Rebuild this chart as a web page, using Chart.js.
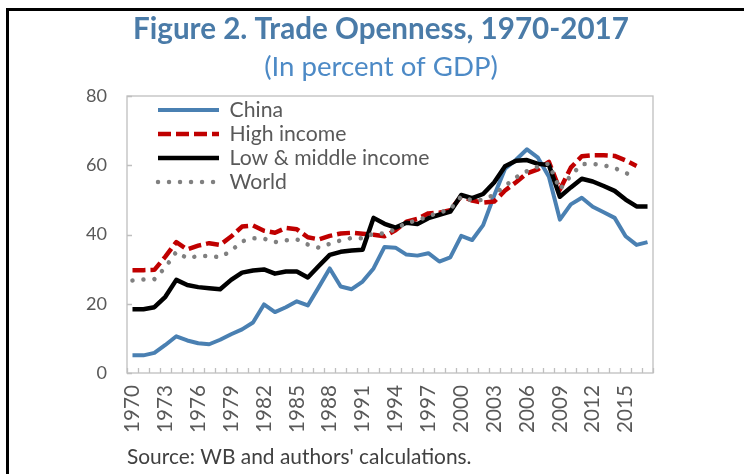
<!DOCTYPE html>
<html>
<head>
<meta charset="utf-8">
<script src="https://cdn.jsdelivr.net/npm/chart.js@4/dist/chart.umd.min.js"></script>
<style>
html,body{margin:0;padding:0;background:#fff;}
canvas{display:block;}
</style>
</head>
<body>
<canvas id="c" width="744" height="474"></canvas>
<script>
// ---------- data ----------
const years = ['1970','1971','1972','1973','1974','1975','1976','1977','1978','1979',
  '1980','1981','1982','1983','1984','1985','1986','1987','1988','1989',
  '1990','1991','1992','1993','1994','1995','1996','1997','1998','1999',
  '2000','2001','2002','2003','2004','2005','2006','2007','2008','2009',
  '2010','2011','2012','2013','2014','2015','2016','2017'];
const xTickLabels = ['1970','1973','1976','1979','1982','1985','1988','1991','1994','1997','2000','2003','2006','2009','2012','2015'];
const yTicks = [0, 20, 40, 60, 80];

const china = [5.1,5.1,5.8,8.1,10.6,9.4,8.6,8.3,9.6,11.2,
  12.6,14.6,19.8,17.6,19.0,20.7,19.5,24.8,30.2,25.0,
  24.2,26.4,30.2,36.4,36.2,34.2,33.9,34.6,32.2,33.4,
  39.6,38.4,42.7,51.2,59.0,61.6,64.6,62.2,56.7,44.3,
  48.7,50.6,48.0,46.4,44.8,39.5,37.0,37.8];
const highIncome = [29.7,29.7,29.8,33.6,37.8,35.7,36.8,37.5,37.0,39.4,
  42.3,42.6,41.1,40.5,41.9,41.5,39.2,38.6,39.6,40.3,
  40.5,40.2,39.9,39.5,41.2,43.7,44.5,46.1,46.3,47.0,
  51.1,49.8,49.2,49.5,52.7,55.1,57.7,58.8,61.0,52.9,
  59.3,62.6,62.9,62.9,62.7,61.4,59.8,null];
const lowMiddle = [18.4,18.4,19.0,22.0,26.9,25.4,24.8,24.5,24.2,26.9,
  29.0,29.6,29.9,28.7,29.3,29.3,27.6,30.9,34.1,35.0,
  35.4,35.6,44.8,43.1,42.0,43.4,43.0,44.7,45.7,46.6,
  51.4,50.5,51.7,55.0,59.7,61.3,61.5,60.4,60.1,50.9,
  53.6,56.1,55.3,54.0,52.6,50.1,48.1,48.1];
const world = [26.7,27.0,27.1,30.5,35.0,33.1,33.8,33.8,33.4,35.3,
  38.0,38.9,38.8,37.8,38.3,38.6,37.1,36.2,37.3,38.3,
  39.0,38.9,40.3,40.3,41.5,43.4,44.0,45.3,46.3,47.3,
  51.0,49.8,50.0,51.5,54.0,56.5,58.3,59.6,60.5,53.0,
  57.0,60.3,60.4,60.0,59.2,57.8,56.3,null];

// ---------- styling helpers ----------
const FAMILY = 'Lato, "Open Sans", "DejaVu Sans", sans-serif';
const mctx = document.createElement('canvas').getContext('2d');
function fitSize(text, weight, target) {
  mctx.font = weight + ' 100px ' + FAMILY;
  return Math.round(100 * target / mctx.measureText(text).width * 10) / 10;
}
const TITLE = 'Figure 2. Trade Openness, 1970-2017';
const SUBTITLE = '(In percent of GDP)';
const SOURCE = "Source: WB and authors' calculations.";
const fsTitle = fitSize(TITLE, 'bold', 496);
const fsSub = fitSize(SUBTITLE, 'normal', 234);
const fsLegend = fitSize('Low & middle income', 'normal', 200);
const fsY = fitSize('80', 'normal', 21);
const fsX = fitSize('1970', 'normal', 48);
const fsSrc = fitSize(SOURCE, 'normal', 345);
const legPad = Math.max(2, 24 - fsLegend);

const W = 744, H = 474;
const PLOT_LEFT = 127, PLOT_BOTTOM = 373, PAD_LEFT = 72, PAD_RIGHT = 91, PAD_TOP = 10;
const TITLE_CENTER = 381;

const framePlugin = {
  id: 'frame',
  beforeDraw(chart) {
    const c = chart.ctx;
    c.save();
    c.fillStyle = '#ffffff';
    c.fillRect(0, 0, chart.width, chart.height);
    c.fillStyle = '#000000';
    c.fillRect(6, 8, chart.width - 6, 3);
    c.fillRect(6, 8, 3, chart.height - 8);
    c.restore();
  },
  beforeDatasetsDraw(chart) {
    const {ctx, chartArea: a, scales: {x, y}} = chart;
    ctx.save();
    ctx.strokeStyle = '#bfbfbf';
    ctx.lineWidth = 1.3;
    ctx.strokeRect(a.left, a.top, a.width, a.height);
    ctx.beginPath();
    for (let k = 0; k <= years.length; k++) {
      const px = Math.round(x.getPixelForValue(k - 0.5)) + 0.5;
      ctx.moveTo(px, a.bottom);
      ctx.lineTo(px, a.bottom - 5);
    }
    y.ticks.forEach(t => {
      const py = Math.round(y.getPixelForValue(t.value)) + 0.5;
      ctx.moveTo(a.left, py);
      ctx.lineTo(a.left + 5, py);
    });
    ctx.stroke();
    ctx.restore();
  }
};

const placePlugin = {
  id: 'place',
  afterLayout(chart) {
    const ca = chart.chartArea;
    // centre title and subtitle on the reference's axis
    chart.boxes.forEach(b => {
      if (b.options && (b.options.text === TITLE || b.options.text === SUBTITLE)) {
        const shift = TITLE_CENTER - (b.left + b.right) / 2;
        b.left += shift; b.right += shift;
      }
    });
    const lg = chart.legend;
    if (!lg) return;
    const w = lg.width;
    lg.left = ca.left + 31 - legPad;
    lg.right = lg.left + w;
    lg.top = ca.top + 14 - legPad - fsLegend / 2;
    lg.bottom = ca.bottom;
  }
};

const baseLine = {pointRadius: 0, pointHoverRadius: 0, tension: 0, fill: false, borderJoinStyle: 'round'};

new Chart(document.getElementById('c'), {
  type: 'line',
  data: {
    labels: years,
    datasets: [
      Object.assign({label: 'China', data: china, borderColor: '#4a80b2', backgroundColor: '#4a80b2', borderWidth: 4, order: 4}, baseLine),
      Object.assign({label: 'High income', data: highIncome, borderColor: '#c00000', backgroundColor: '#c00000', borderWidth: 4.5, borderDash: [13, 5], order: 3}, baseLine),
      Object.assign({label: 'Low & middle income', data: lowMiddle, borderColor: '#000000', backgroundColor: '#000000', borderWidth: 4.5, order: 2}, baseLine),
      Object.assign({label: 'World', data: world, borderColor: '#808080', backgroundColor: '#808080', borderWidth: 4.5, borderDash: [0.01, 11], borderCapStyle: 'round', order: 1}, baseLine)
    ]
  },
  options: {
    responsive: false,
    animation: false,
    devicePixelRatio: 1,
    layout: {padding: {left: PAD_LEFT, right: PAD_RIGHT, top: PAD_TOP, bottom: 0}},
    plugins: {
      tooltip: {enabled: false},
      title: {
        display: true, text: TITLE, color: '#4a7ba8',
        font: {family: FAMILY, size: fsTitle, weight: 'bold', lineHeight: 1.2},
        padding: {top: 19 - 0.6 * fsTitle, bottom: 0}
      },
      subtitle: {
        display: true, text: SUBTITLE, color: '#4d8ac6',
        font: {family: FAMILY, size: fsSub, weight: 'normal', lineHeight: 1.2},
        padding: {top: 67 - (29 + 0.6 * fsTitle) - 0.6 * fsSub, bottom: 96 - 67 - 0.6 * fsSub}
      },
      legend: {
        display: true, position: 'chartArea', fullSize: false, align: 'start',
        labels: {
          usePointStyle: true, pointStyle: 'line', pointStyleWidth: 61,
          padding: legPad, color: '#595959',
          font: {family: FAMILY, size: fsLegend},
          sort: (a, b) => a.datasetIndex - b.datasetIndex,
          generateLabels(chart) {
            const items = Chart.defaults.plugins.legend.labels.generateLabels(chart);
            items.forEach(it => {
              const ds = chart.data.datasets[it.datasetIndex];
              it.lineDash = ds.borderDash || [];
              it.lineCap = ds.borderCapStyle || 'butt';
              it.lineWidth = ds.borderWidth;
              it.strokeStyle = ds.borderColor;
              it.fillStyle = ds.borderColor;
              it.pointStyle = 'line';
            });
            return items;
          }
        }
      }
    },
    scales: {
      x: {
        type: 'category', offset: true,
        grid: {display: false, drawTicks: false},
        border: {display: false},
        ticks: {
          autoSkip: false, minRotation: 90, maxRotation: 90, padding: 12,
          color: '#595959', font: {family: FAMILY, size: fsX},
          callback(v) { const l = this.getLabelForValue(v); return xTickLabels.includes(l) ? l : ''; }
        },
        title: {
          display: true, text: SOURCE, align: 'start', color: '#404040',
          font: {family: FAMILY, size: fsSrc, lineHeight: 1.2},
          padding: {top: 0, bottom: 17 - 0.6 * fsSrc}
        },
        afterFit(s) { s.height = H - PLOT_BOTTOM; s.paddingLeft = 0; s.paddingRight = 0; }
      },
      y: {
        min: 0, max: 80,
        afterBuildTicks(s) { s.ticks = yTicks.map(v => ({value: v})); },
        grid: {display: false, drawTicks: false},
        border: {display: false},
        ticks: {padding: 20, color: '#595959', font: {family: FAMILY, size: fsY}},
        afterFit(s) { s.width = PLOT_LEFT - PAD_LEFT; s.paddingTop = 0; s.paddingBottom = 0; }
      }
    }
  },
  plugins: [framePlugin, placePlugin]
});
</script>
</body>
</html>
